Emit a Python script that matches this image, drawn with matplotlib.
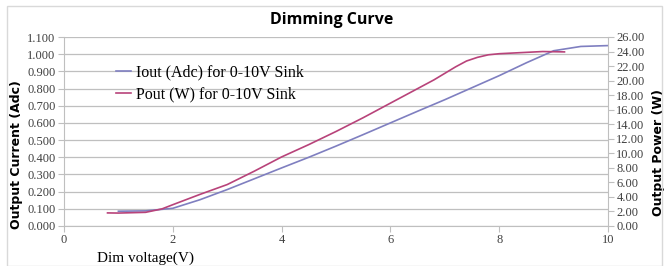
import matplotlib.pyplot as plt
from matplotlib import patches

# dimming curve data
iout_volts = [1.0, 1.5, 2.0, 2.5, 3.0, 3.5, 4.0, 4.5, 5.0, 5.5, 6.0, 6.5,
              7.0, 7.5, 8.0, 8.5, 9.0, 9.5, 10.0]
iout_amps = [0.086, 0.088, 0.103, 0.153, 0.212, 0.275, 0.338, 0.400, 0.465,
             0.532, 0.600, 0.668, 0.735, 0.805, 0.875, 0.950, 1.020, 1.045, 1.050]

pout_volts = [0.8, 1.0, 1.5, 1.8, 2.0, 2.5, 3.0, 3.5, 4.0, 4.5, 5.0, 5.5, 6.0,
              6.5, 6.8, 7.0, 7.2, 7.4, 7.6, 7.8, 8.0, 8.4, 8.8, 9.2]
pout_watts = [1.80, 1.78, 1.88, 2.35, 2.93, 4.35, 5.70, 7.55, 9.50, 11.2, 13.0,
              14.9, 16.9, 18.9, 20.1, 21.0, 21.9, 22.7, 23.2, 23.55, 23.7,
              23.85, 24.0, 23.95]

left_ticks = [i / 10 for i in range(12)]
right_ticks = list(range(0, 27, 2))
x_ticks = [0, 2, 4, 6, 8, 10]

serif = 'Liberation Serif'
grid_col = '#BFBFBF'
blue = '#7F7FC0'
red = '#B8437A'

fig = plt.figure(figsize=(6.7, 2.66), dpi=100)
fig.patches.append(patches.Rectangle((7 / 670, 0), 655 / 670, 1 - 6 / 266,
                                     transform=fig.transFigure, fill=False,
                                     edgecolor='#D9D9D9', linewidth=1))

ax = fig.add_axes([64 / 670, 40 / 266, 544 / 670, 189 / 266])
ax2 = ax.twinx()

line1, = ax.plot(iout_volts, iout_amps, color=blue, lw=1.2,
                 label='Iout (Adc) for 0-10V Sink')
line2, = ax2.plot(pout_volts, pout_watts, color=red, lw=1.2,
                  label='Pout (W) for 0-10V Sink')

ax.set_xlim(0, 10)
ax.set_ylim(0, 1.1)
ax2.set_ylim(0, 26)
ax.set_xticks(x_ticks)
ax.set_yticks(left_ticks)
ax2.set_yticks(right_ticks)
ax.set_xticklabels([str(t) for t in x_ticks], fontfamily=serif, fontsize=9)
ax.set_yticklabels(['%.3f' % t for t in left_ticks], fontfamily=serif, fontsize=9)
ax2.set_yticklabels(['%.2f' % t for t in right_ticks], fontfamily=serif, fontsize=9)

ax.grid(axis='y', color=grid_col, lw=0.9)
ax.set_axisbelow(True)
for a in (ax, ax2):
    for s in a.spines.values():
        s.set_visible(False)
    a.tick_params(length=4, width=0.8, color=grid_col, pad=2, labelcolor='#404040')
ax.spines['left'].set_visible(True)
ax.spines['left'].set_color(grid_col)
ax.spines['bottom'].set_visible(True)
ax.spines['bottom'].set_color(grid_col)
ax2.spines['right'].set_visible(True)
ax2.spines['right'].set_color(grid_col)

ax.set_ylabel('Output Current (Adc)', fontweight='bold', fontsize=9,
              labelpad=3, y=0.38)
ax2.set_ylabel('Output Power (W)', fontweight='bold', fontsize=9,
               labelpad=5, y=0.39)
fig.text(97 / 670, 1 - 258 / 266, 'Dim voltage(V)', fontfamily=serif,
         fontsize=11, va='center', ha='left')
fig.text(0.5 - 3 / 670, 1 - 20 / 266, 'Dimming Curve', fontweight='bold',
         fontsize=11.5, ha='center', va='center', fontfamily='Open Sans')

ax.legend(handles=[line1, line2], loc='upper left', frameon=False,
          bbox_to_anchor=(0.07, 0.93), prop={'family': serif, 'size': 11.5},
          handlelength=0.9, handletextpad=0.3, labelspacing=0.35)

fig.savefig('out.png', dpi=100)
